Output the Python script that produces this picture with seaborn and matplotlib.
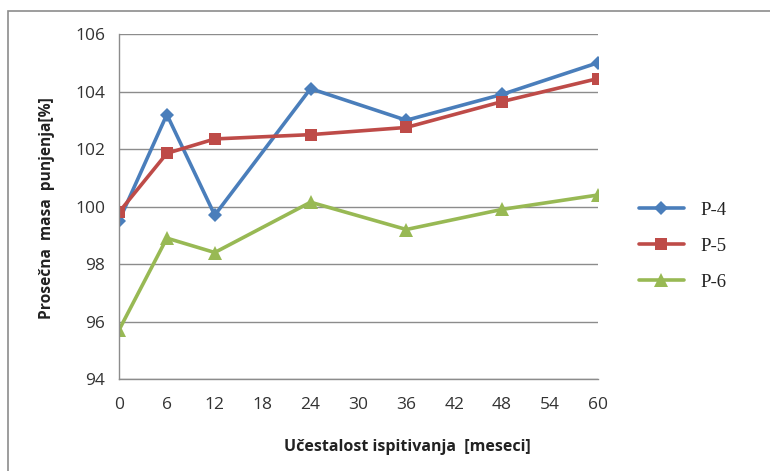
import matplotlib
matplotlib.use("Agg")
import matplotlib.pyplot as plt
import seaborn as sns
import pandas as pd
from matplotlib.patches import Rectangle

# data
months = [0, 6, 12, 24, 36, 48, 60]
p4 = [99.5, 103.2, 99.7, 104.1, 103.0, 103.9, 105.0]
p5 = [99.8, 101.85, 102.35, 102.5, 102.75, 103.65, 104.45]
p6 = [95.7, 98.9, 98.4, 100.15, 99.2, 99.9, 100.4]
series_names = ['P-4', 'P-5', 'P-6']
x_ticks = list(range(0, 61, 6))
y_ticks = list(range(94, 107, 2))

colors = ['#4A7EBB', '#BE4B48', '#98B954']
markers = ['D', 's', '^']
msizes = [7, 9, 10]


def main():
    df = pd.DataFrame({'month': months * 3,
                       'value': p4 + p5 + p6,
                       'series': [s for s in series_names for _ in months]})

    sns.set_style('white')
    plt.rcParams['font.family'] = ['Open Sans', 'DejaVu Sans']

    fig = plt.figure(figsize=(7.7, 4.71), dpi=100)
    ax = fig.add_axes([0.1545, 0.1953, 0.622, 0.7325])

    for name, c, m, ms in zip(series_names, colors, markers, msizes):
        sub = df[df['series'] == name]
        sns.lineplot(data=sub, x='month', y='value', ax=ax, color=c,
                     linewidth=2.6, marker=m, markersize=ms,
                     markeredgewidth=0, label=name)

    ax.set_xlim(0, 60)
    ax.set_ylim(94, 106)
    ax.set_xticks(x_ticks)
    ax.set_yticks(y_ticks)
    ax.grid(axis='y', color='#8C8C8C', linewidth=1.0)
    ax.grid(axis='x', visible=False)
    for side in ['top', 'right']:
        ax.spines[side].set_visible(False)
    for side in ['left', 'bottom']:
        ax.spines[side].set_color('#8C8C8C')
        ax.spines[side].set_linewidth(1.0)
    ax.set_axisbelow(True)
    ax.tick_params(axis='both', direction='out', length=6, width=1,
                   color='#8C8C8C', labelsize=12.5, labelcolor='#333333')
    ax.tick_params(axis='x', pad=7)
    ax.tick_params(axis='y', pad=4)

    ax.set_xlabel('')
    ax.set_ylabel('')
    fig.text(407 / 770, 1 - 447 / 471, 'Učestalost ispitivanja  [meseci]',
             ha='center', va='center', fontsize=11.5, fontweight='bold',
             color='#222222')
    fig.text(47 / 770, 1 - 208 / 471, 'Prosečna  masa  punjenja[%]',
             ha='center', va='center', rotation=90, fontsize=11.2,
             fontweight='bold', color='#222222')

    leg = ax.legend(loc='center left', bbox_to_anchor=(1.05, 0.385),
                    frameon=False, handlelength=2.4, labelspacing=1.0,
                    handletextpad=0.9,
                    prop={'family': 'Liberation Serif', 'size': 13.5})
    for t in leg.get_texts():
        t.set_color('#222222')

    fig.patches.append(Rectangle((8 / 770, -0.1), 1.2, 1 - 11 / 471 + 0.1,
                                 transform=fig.transFigure, fill=False,
                                 edgecolor='#8C8C8C', linewidth=1.2))

    fig.savefig('out.png', dpi=100)


if __name__ == "__main__":
    main()
